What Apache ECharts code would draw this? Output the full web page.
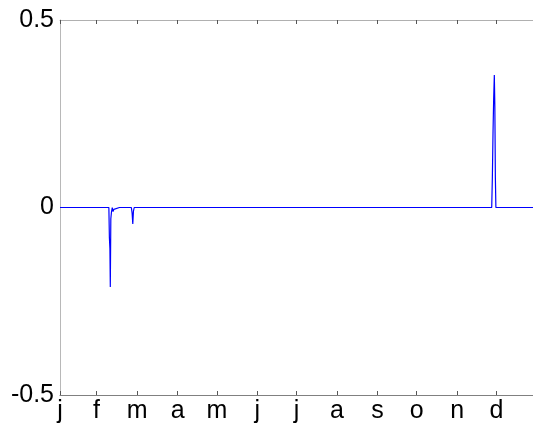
<!DOCTYPE html>
<html>
<head>
<meta charset="utf-8">
<script src="https://cdn.jsdelivr.net/npm/echarts@6/dist/echarts.min.js"></script>
<style>
html,body{margin:0;padding:0;background:#fff;}
#c{width:533px;height:427px;}
</style>
</head>
<body>
<div id="c"></div>
<script>
// Day of year (0 = Jan 1) and series values
var days = [0, 37.4, 37.8, 38.2, 38.5, 38.9, 39.4, 40.0, 40.6, 41.2, 42.0, 45.5, 46.0, 46.5,
            54.6, 55.2, 55.7, 56.2, 56.8, 330.4, 330.9, 331.4, 331.9, 332.4, 332.8, 333.2, 333.6, 362];
var values = [0, 0, -0.08, -0.11, -0.212, -0.03, -0.012, 0, -0.011, -0.005, 0, 0, -0.003, 0,
              0, -0.015, -0.044, -0.01, 0, 0, 0.08, 0.2, 0.29, 0.353, 0.27, 0.08, 0, 0];
// Month tick positions (day of year) and labels
var monthTicks = [0, 28, 59, 90, 120, 151, 181, 212, 243, 273, 304, 334];
var monthLabels = ['j', 'f', 'm', 'a', 'm', 'j', 'j', 'a', 's', 'o', 'n', 'd'];
var yTicks = [-0.5, 0, 0.5];

var data = days.map(function (d, i) { return [d, values[i]]; });
var font = "'Liberation Sans', Arial, sans-serif";

var chart = echarts.init(document.getElementById('c'), null, {renderer: 'canvas'});
chart.setOption({
  animation: false,
  backgroundColor: '#ffffff',
  grid: {left: 60, top: 20, width: 473, height: 375, containLabel: false},
  xAxis: [{
    type: 'value', min: 0, max: 362, position: 'bottom',
    axisLine: {show: true, onZero: false, lineStyle: {color: '#808080', width: 1}},
    axisTick: {show: true, inside: true, length: 4, customValues: monthTicks,
               lineStyle: {color: '#555555', width: 1}},
    axisLabel: {show: true, customValues: monthTicks, margin: 4,
      fontSize: 25, fontFamily: font, color: '#000',
      formatter: function (v) { var i = monthTicks.indexOf(v); return i >= 0 ? monthLabels[i] : ''; }},
    splitLine: {show: false}
  }, {
    type: 'value', min: 0, max: 362, position: 'top',
    axisLine: {show: true, onZero: false, lineStyle: {color: '#b0b0b0', width: 1}},
    axisTick: {show: true, inside: true, length: 4, customValues: monthTicks,
               lineStyle: {color: '#555555', width: 1}},
    axisLabel: {show: false},
    splitLine: {show: false}
  }],
  yAxis: {
    type: 'value', min: -0.5, max: 0.5, interval: 0.5,
    axisLine: {show: true, onZero: false, lineStyle: {color: '#b8b8b8', width: 1}},
    axisTick: {show: false},
    axisLabel: {show: true, margin: 6, fontSize: 25, fontFamily: font, color: '#000',
      customValues: yTicks,
      formatter: function (v) { return v === 0 ? '0' : String(v); }},
    splitLine: {show: false}
  },
  series: [{
    type: 'line', data: data, xAxisIndex: 0,
    showSymbol: false, symbol: 'none',
    lineStyle: {color: '#0000ff', width: 1.2},
    itemStyle: {color: '#0000ff'}
  }]
});
</script>
</body>
</html>
